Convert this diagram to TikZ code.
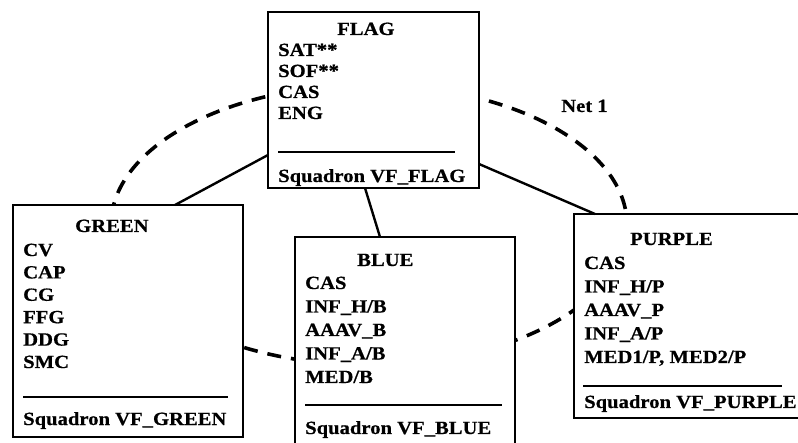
\documentclass[tikz,border=0pt]{standalone}
\usepackage{fontspec}
\setmainfont{Liberation Serif}[FakeStretch=1.11, BoldFeatures={FakeBold=0.6}]
\begin{document}
\begin{tikzpicture}[x=1pt,y=-1pt,
  box/.style={draw=black, fill=white, line width=1.5pt, anchor=north west, inner sep=0pt, outer sep=0pt},
  item/.style={anchor=base west, inner sep=0pt, font=\bfseries\fontsize{18.6}{22}\selectfont},
  sep/.style={line width=1.8pt},
  conn/.style={line width=2.4pt},
  net/.style={line width=3.6pt, dash pattern=on 14pt off 10pt}]
\fill[white] (0,0) rectangle (798,443);
\useasboundingbox (0,0) rectangle (798,443);
% Net 1 ellipse (behind the boxes)
\draw[net] (369,225) ellipse [x radius=258, y radius=140];
\node[item] (net) at (561,112) {Net 1};
% boxes
\node[box, minimum width=211pt, minimum height=176pt] (F) at (268,12) {};
\node[box, minimum width=230pt, minimum height=232pt] (G) at (13,205) {};
\node[box, minimum width=220pt, minimum height=211pt] (B) at (295,237) {};
\node[box, minimum width=228pt, minimum height=204pt] (P) at (574,214) {};
% connectors
\draw[conn] ([yshift=33pt]F.south west) -- ([xshift=162pt]G.north west);
\draw[conn] ([xshift=97pt]F.south west) -- ([xshift=85pt]B.north west);
\draw[conn] ([yshift=24pt]F.south east) -- ([xshift=21pt]P.north west);
% FLAG
\node[item] (Ft) at (337,35) {FLAG};
\foreach \t [count=\i] in {SAT**,SOF**,CAS,ENG}
  \node[item] (F\i) at (278,{56+(\i-1)*21}) {\t};
\draw[sep] (278,152) -- (455,152);
\node[item] (Fs) at (278,182) {Squadron VF\_FLAG};
% GREEN
\node[item] (Gt) at (75,232) {GREEN};
\foreach \t [count=\i] in {CV,CAP,CG,FFG,DDG,SMC}
  \node[item] (G\i) at (23,{256+(\i-1)*22.4}) {\t};
\draw[sep] (23,397) -- (228,397);
\node[item] (Gs) at (23,425) {Squadron VF\_GREEN};
% BLUE
\node[item] (Bt) at (357,266) {BLUE};
\foreach \t [count=\i] in {CAS,INF\_H/B,AAAV\_B,INF\_A/B,MED/B}
  \node[item] (B\i) at (305,{289+(\i-1)*23.5}) {\t};
\draw[sep] (305,405) -- (502,405);
\node[item] (Bs) at (305,434) {Squadron VF\_BLUE};
% PURPLE
\node[item] (Pt) at (630,245) {PURPLE};
\foreach \t [count=\i] in {CAS,INF\_H/P,AAAV\_P,INF\_A/P,{MED1/P, MED2/P}}
  \node[item] (P\i) at (584,{269+(\i-1)*23.5}) {\t};
\draw[sep] (583,386) -- (782,386);
\node[item] (Ps) at (584,408) {Squadron VF\_PURPLE};
\end{tikzpicture}
\end{document}
